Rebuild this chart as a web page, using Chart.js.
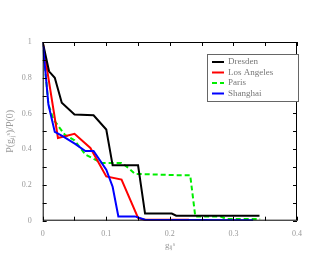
<!DOCTYPE html>
<html>
<head>
<meta charset="utf-8">
<script src="https://cdn.jsdelivr.net/npm/chart.js@4.4.1/dist/chart.umd.min.js"></script>
<style>
  html, body { margin: 0; padding: 0; background: #fff; }
  #wrap { width: 330px; height: 255px; }
</style>
</head>
<body>
<div id="wrap"><canvas id="c"></canvas></div>
<script>
// data
const dresdenX = [0, 0.010, 0.019, 0.030, 0.050, 0.080, 0.100, 0.110, 0.150, 0.161, 0.203, 0.210, 0.341];
const dresdenY = [1, 0.836, 0.800, 0.660, 0.594, 0.590, 0.510, 0.310, 0.310, 0.040, 0.040, 0.028, 0.028];
const laX = [0, 0.024, 0.050, 0.075, 0.100, 0.124, 0.150, 0.160, 0.230];
const laY = [1, 0.463, 0.486, 0.407, 0.248, 0.230, 0.015, 0.005, 0.005];
const parisX = [0, 0.009, 0.017, 0.035, 0.050, 0.067, 0.093, 0.124, 0.135, 0.145, 0.208, 0.232, 0.240, 0.279, 0.289, 0.342];
const parisY = [1, 0.650, 0.566, 0.480, 0.450, 0.370, 0.323, 0.323, 0.295, 0.262, 0.255, 0.255, 0.024, 0.024, 0.010, 0.010];
const shanghaiX = [0, 0.009, 0.019, 0.032, 0.051, 0.067, 0.080, 0.100, 0.110, 0.119, 0.145, 0.161, 0.331];
const shanghaiY = [1, 0.650, 0.497, 0.472, 0.430, 0.390, 0.390, 0.286, 0.190, 0.024, 0.024, 0.005, 0.003];
const xTicks = [0, 0.1, 0.2, 0.3, 0.4];
const yTicks = [0, 0.2, 0.4, 0.6, 0.8, 1];

function pts(xs, ys) { return xs.map((x, i) => ({ x: x, y: ys[i] })); }

const FONT = 'Liberation Serif';

// frame + inward ticks + legend box
const framePlugin = {
  id: 'frame',
  afterDraw(chart) {
    const ctx = chart.ctx, a = chart.chartArea;
    const xs = chart.scales.x, ys = chart.scales.y;
    ctx.save();
    ctx.strokeStyle = '#000';
    ctx.lineWidth = 1;
    ctx.strokeRect(a.left + 0.5, a.top + 0.5, a.right - a.left - 1, a.bottom - a.top - 1);
    ctx.beginPath();
    for (let v = 0; v <= 0.4001; v += 0.05) {
      const p = Math.round(xs.getPixelForValue(v)) + 0.5;
      const len = 4;
      ctx.moveTo(p, a.bottom); ctx.lineTo(p, a.bottom - len);
      ctx.moveTo(p, a.top); ctx.lineTo(p, a.top + len);
    }
    for (let v = 0; v <= 1.0001; v += 0.1) {
      const p = Math.round(ys.getPixelForValue(v)) + 0.5;
      const len = 4;
      ctx.moveTo(a.left, p); ctx.lineTo(a.left + len, p);
      ctx.moveTo(a.right, p); ctx.lineTo(a.right - len, p);
    }
    ctx.stroke();

    // legend
    const bx = 207, by = 54, bw = 91, bh = 47;
    ctx.fillStyle = '#fff';
    ctx.fillRect(bx, by, bw, bh);
    ctx.strokeStyle = '#666';
    ctx.strokeRect(bx + 0.5, by + 0.5, bw, bh);
    ctx.font = '9px ' + FONT;
    ctx.textBaseline = 'middle';
    chart.data.datasets.forEach((ds, i) => {
      const yy = by + 8 + i * 10.5;
      ctx.strokeStyle = ds.borderColor;
      ctx.lineWidth = 2;
      ctx.setLineDash(ds.borderDash || []);
      ctx.beginPath();
      ctx.moveTo(bx + 5, yy); ctx.lineTo(bx + 17, yy);
      ctx.stroke();
      ctx.setLineDash([]);
      ctx.fillStyle = '#777';
      ctx.fillText(ds.label, bx + 21, yy);
    });
    ctx.restore();
  }
};

new Chart(document.getElementById('c'), {
  type: 'line',
  data: {
    datasets: [
      { label: 'Dresden', data: pts(dresdenX, dresdenY), borderColor: '#000000' },
      { label: 'Los Angeles', data: pts(laX, laY), borderColor: '#ff0000' },
      { label: 'Paris', data: pts(parisX, parisY), borderColor: '#00ee00', borderDash: [5, 3] },
      { label: 'Shanghai', data: pts(shanghaiX, shanghaiY), borderColor: '#0000ff', order: -1 }
    ]
  },
  options: {
    responsive: true,
    maintainAspectRatio: false,
    animation: false,
    layout: { padding: { top: 42, right: 33, left: 0, bottom: 0 } },
    elements: {
      point: { radius: 0 },
      line: { borderWidth: 2, tension: 0, fill: false }
    },
    plugins: {
      legend: { display: false },
      tooltip: { enabled: false }
    },
    scales: {
      x: {
        type: 'linear', min: 0, max: 0.4,
        afterFit(s) { s.height = 34.3; },
        afterBuildTicks(s) { s.ticks = xTicks.map(v => ({ value: v })); },
        grid: { display: false },
        border: { display: false },
        ticks: { color: '#999', font: { family: FONT, size: 8 }, padding: 0, maxRotation: 0,
          callback: v => String(v) },
        title: { display: true, text: 'gᵢⱼˢ', color: '#999', font: { family: FONT, size: 9 }, padding: { top: 4 } }
      },
      y: {
        type: 'linear', min: 0, max: 1,
        afterFit(s) { s.width = 42.7; },
        afterBuildTicks(s) { s.ticks = yTicks.map(v => ({ value: v })); },
        grid: { display: false },
        border: { display: false },
        ticks: { color: '#999', font: { family: FONT, size: 8 }, padding: 3,
          callback: v => String(v) },
        title: { display: true, text: 'P(gᵢⱼˢ)/P(0)', color: '#999', font: { family: FONT, size: 10 }, padding: { bottom: 6 } }
      }
    }
  },
  plugins: [framePlugin]
});
</script>
</body>
</html>
